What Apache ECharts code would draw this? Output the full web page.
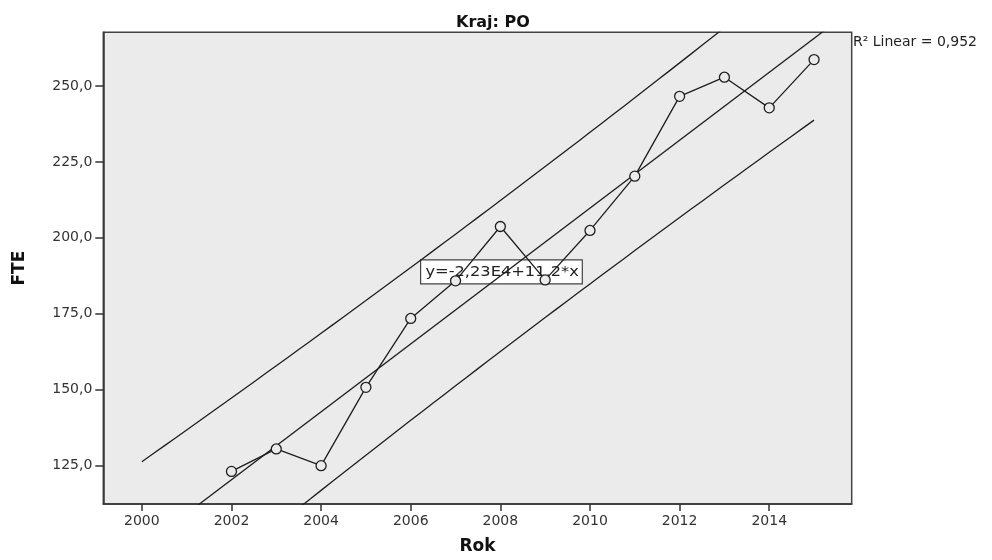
<!DOCTYPE html>
<html>
<head>
<meta charset="utf-8">
<title>Kraj: PO</title>
<script src="https://cdn.jsdelivr.net/npm/echarts@6/dist/echarts.min.js"></script>
<style>
  html, body { margin: 0; padding: 0; background: #fff; }
  #chart { width: 992px; height: 560px; }
</style>
</head>
<body>
<div id="chart"></div>
<script>
// Observed FTE per year
const years = [2002, 2003, 2004, 2005, 2006, 2007, 2008, 2009, 2010, 2011, 2012, 2013, 2014, 2015];
const fte = [123.0, 130.4, 124.9, 150.7, 173.4, 185.8, 203.7, 186.1, 202.4, 220.3, 246.6, 252.9, 242.8, 258.7];

// Axis ticks
const xTicks = [2000, 2002, 2004, 2006, 2008, 2010, 2012, 2014];
const yTicks = [125, 150, 175, 200, 225, 250];

// Axis extents
const xRange = [1999.14, 2015.84];
const yRange = [112.26, 267.7];

// Year span of the 95% individual prediction limits
const bandSpan = [2000, 2015];
// Student t, 0.975 quantile, 12 degrees of freedom
const tCrit = 2.179;

// Ordinary least squares fit
const n = years.length;
const mx = years.reduce((s, v) => s + v, 0) / n;
const my = fte.reduce((s, v) => s + v, 0) / n;
let sxx = 0, sxy = 0;
for (let i = 0; i < n; i++) {
  sxx += (years[i] - mx) * (years[i] - mx);
  sxy += (years[i] - mx) * (fte[i] - my);
}
const slope = sxy / sxx;
const intercept = my - slope * mx;
let sse = 0;
for (let i = 0; i < n; i++) {
  const r = fte[i] - (intercept + slope * years[i]);
  sse += r * r;
}
const se = Math.sqrt(sse / (n - 2));
const predict = x => intercept + slope * x;

const observed = years.map((y, i) => [y, fte[i]]);
const fitLine = [[xRange[0], predict(xRange[0])], [xRange[1], predict(xRange[1])]];
const upper = [], lower = [];
for (let x = bandSpan[0]; x <= bandSpan[1] + 1e-9; x += 0.25) {
  const h = tCrit * se * Math.sqrt(1 + 1 / n + (x - mx) * (x - mx) / sxx);
  upper.push([x, predict(x) + h]);
  lower.push([x, predict(x) - h]);
}

const fmtComma = v => v.toFixed(1).replace('.', ',');
const ink = '#1e1e1e';
const font = 'DejaVu Sans';

const chart = echarts.init(document.getElementById('chart'), null, { renderer: 'canvas' });

const refLine = (data) => ({
  type: 'line',
  data: data,
  showSymbol: false,
  symbol: 'none',
  silent: true,
  smooth: false,
  lineStyle: { color: ink, width: 1.3 },
  z: 2
});

chart.setOption({
  animation: false,
  backgroundColor: '#fff',
  title: {
    text: 'Kraj: PO',
    left: 451,
    top: 10,
    textStyle: { fontFamily: font, fontWeight: 'bold', fontSize: 16, color: '#111' }
  },
  grid: {
    left: 103.3, right: 140.3, top: 32.3, bottom: 50,
    show: true,
    backgroundColor: '#ebebeb',
    borderColor: '#444',
    borderWidth: 1.5
  },
  xAxis: {
    type: 'value',
    min: xRange[0],
    max: xRange[1],
    name: 'Rok',
    nameLocation: 'middle',
    nameGap: 34,
    nameTextStyle: { fontFamily: font, fontWeight: 'bold', fontSize: 17, color: '#111' },
    axisLine: { show: true, lineStyle: { color: '#333', width: 1.5 } },
    axisTick: { show: true, customValues: xTicks, length: 7, lineStyle: { color: '#333', width: 1.5 } },
    axisLabel: {
      customValues: xTicks,
      formatter: v => String(v),
      margin: 10,
      fontFamily: font, fontSize: 14, color: '#333'
    },
    splitLine: { show: false }
  },
  yAxis: {
    type: 'value',
    min: yRange[0],
    max: yRange[1],
    name: 'FTE',
    nameLocation: 'middle',
    nameRotate: 90,
    nameGap: 75,
    nameTextStyle: { fontFamily: font, fontWeight: 'bold', fontSize: 17, color: '#111' },
    axisLine: { show: true, lineStyle: { color: '#333', width: 1.5 } },
    axisTick: { show: true, customValues: yTicks, length: 8, lineStyle: { color: '#333', width: 1.5 } },
    axisLabel: {
      customValues: yTicks,
      formatter: v => fmtComma(v),
      margin: 11,
      fontFamily: font, fontSize: 14, color: '#333'
    },
    splitLine: { show: false }
  },
  series: [
    Object.assign(refLine(fitLine), { name: 'Linear' }),
    Object.assign(refLine(upper), { name: 'Upper 95%' }),
    Object.assign(refLine(lower), { name: 'Lower 95%' }),
    {
      name: 'FTE',
      type: 'line',
      data: observed,
      symbol: 'circle',
      symbolSize: 10,
      showSymbol: true,
      lineStyle: { color: ink, width: 1.3 },
      itemStyle: { color: '#ebebeb', borderColor: ink, borderWidth: 1.3 },
      z: 3
    }
  ],
  graphic: [
    {
      type: 'group',
      left: 420,
      top: 259.3,
      z: 10,
      children: [
        {
          type: 'rect',
          shape: { x: 0, y: 0, width: 161.7, height: 24 },
          style: { fill: '#fff', stroke: '#444', lineWidth: 1.2 }
        },
        {
          type: 'text',
          x: 81.5,
          y: 12.5,
          scaleX: 1.16,
          style: {
            text: 'y=-2,23E4+11,2*x',
            fill: '#222',
            font: '14px "DejaVu Sans"',
            align: 'center',
            verticalAlign: 'middle'
          }
        }
      ]
    },
    {
      type: 'text',
      left: 853,
      top: 35,
      style: {
        text: 'R² Linear = 0,952',
        fill: '#222',
        font: '14px "DejaVu Sans"'
      }
    }
  ]
});
</script>
</body>
</html>
